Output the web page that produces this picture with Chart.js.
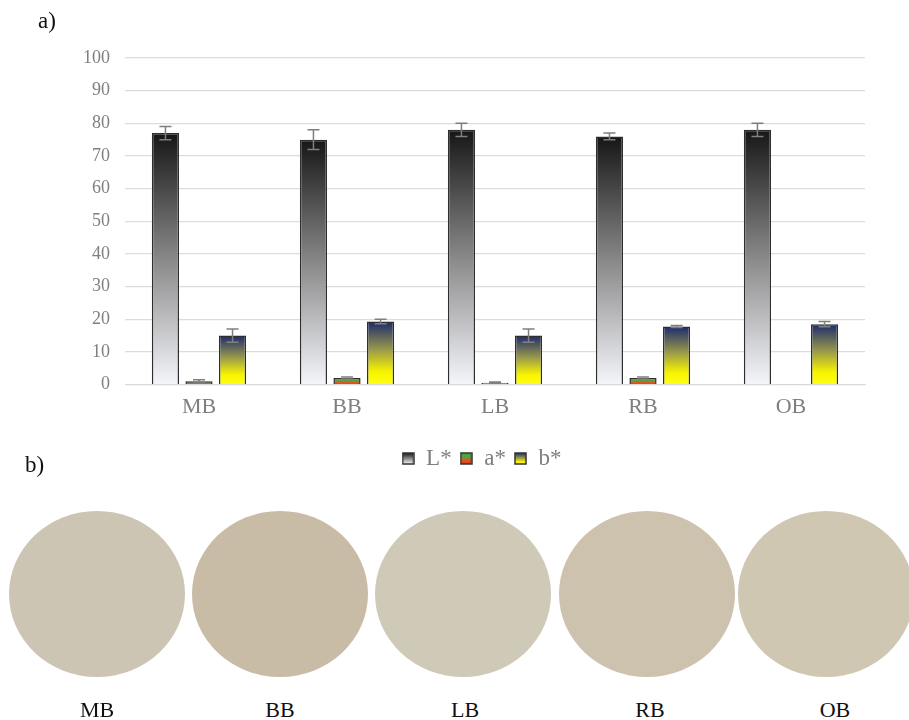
<!DOCTYPE html>
<html>
<head>
<meta charset="utf-8">
<script src="https://cdn.jsdelivr.net/npm/chart.js@4.4.1/dist/chart.umd.min.js"></script>
<style>
    body { margin: 0; background: #fff; font-family: "Liberation Serif", "DejaVu Serif", serif; }
    #page { position: relative; width: 909px; height: 720px; overflow: hidden; }
    #chartBox { position: absolute; left: 0; top: 0; width: 909px; height: 482px; }
    .tag { position: absolute; font-size: 23px; color: #111; }
    .swatch { position: absolute; border-radius: 50%; }
    .name { position: absolute; font-size: 22px; color: #111; transform: translateX(-50%); }
</style>
</head>
<body>
<div id="page">
    <div id="chartBox"><canvas id="barChart"></canvas></div>
    <div class="tag" style="left:38px; top:8px;">a)</div>
    <div class="tag" style="left:25px; top:452px;">b)</div>
    <div id="swatches"></div>
</div>
<script>
const categories = ['MB', 'BB', 'LB', 'RB', 'OB'];
const lValues = [77, 75, 78, 76, 78];
const lErrors = [2, 3, 2, 1, 2];
const aValues = [1, 2, 0.6, 2, 0.1];
const aErrors = [0.5, 0.3, 0.2, 0.3, 0];
const bValues = [15, 19.3, 15, 17.8, 18.5];
const bErrors = [2, 0.7, 2, 0.3, 0.8];
const yTickMax = 100;
const yTickStep = 10;

// sample colours shown under b)
const swatchNames = ['MB', 'BB', 'LB', 'RB', 'OB'];
const swatchColors = ['#cdc5b4', '#c9bca6', '#cfc9b7', '#cdc2ae', '#d0c7b2'];

const serif = "'Liberation Serif', 'Times New Roman', serif";

const lStops = [[0, '#161616'], [0.45, '#7d7d7d'], [1, '#f5f6fb']];
const aStops = [[0, '#3fa548'], [0.35, '#58a044'], [0.7, '#e0561f'], [1, '#ee3a1c']];
const bStops = [[0, '#1c2a6e'], [0.45, '#9a9a4a'], [0.8, '#f8f400'], [1, '#ffff14']];

// Vertical gradient spanning each bar from its top to the zero line
function barGradient(stops) {
    return (ctx) => {
        const chart = ctx.chart;
        if (!chart.chartArea || ctx.type !== 'data') return stops[stops.length - 1][1];
        const y = chart.scales.y;
        const top = y.getPixelForValue(ctx.raw);
        const base = y.getPixelForValue(0);
        if (Math.abs(base - top) < 1) return stops[0][1];
        const g = chart.ctx.createLinearGradient(0, top, 0, base);
        stops.forEach(s => g.addColorStop(s[0], s[1]));
        return g;
    };
}

// Small gradient box used as legend marker
function legendBox(stops) {
    const c = document.createElement('canvas');
    c.width = 13;
    c.height = 13;
    const x = c.getContext('2d');
    const g = x.createLinearGradient(0, 1, 0, 12);
    stops.forEach(s => g.addColorStop(s[0], s[1]));
    x.fillStyle = g;
    x.fillRect(1, 1, 11, 11);
    x.strokeStyle = '#333';
    x.lineWidth = 1.5;
    x.strokeRect(1, 1, 11, 11);
    return c;
}

const errorBars = {
    id: 'errorBars',
    afterDatasetsDraw(chart) {
        const ctx = chart.ctx;
        const y = chart.scales.y;
        ctx.save();
        ctx.strokeStyle = '#7f7f7f';
        ctx.lineWidth = 1.5;
        chart.data.datasets.forEach((ds, i) => {
            const meta = chart.getDatasetMeta(i);
            meta.data.forEach((bar, j) => {
                const e = ds.errors[j];
                if (!e) return;
                const v = ds.data[j];
                const y1 = y.getPixelForValue(v + e);
                const y2 = y.getPixelForValue(v - e);
                ctx.beginPath();
                ctx.moveTo(bar.x, y1);
                ctx.lineTo(bar.x, y2);
                ctx.moveTo(bar.x - 6, y1);
                ctx.lineTo(bar.x + 6, y1);
                ctx.moveTo(bar.x - 6, y2);
                ctx.lineTo(bar.x + 6, y2);
                ctx.stroke();
            });
        });
        ctx.restore();
    }
};

// legend sits a bit right of the canvas centre in the original
const legendShift = {
    id: 'legendShift',
    afterLayout(chart) {
        chart.legend.left += 15;
        chart.legend.right += 15;
    }
};

const series = [
    { label: 'L*', data: lValues, errors: lErrors, stops: lStops },
    { label: 'a*', data: aValues, errors: aErrors, stops: aStops },
    { label: 'b*', data: bValues, errors: bErrors, stops: bStops }
];

const barChart = new Chart(document.getElementById('barChart'), {
    type: 'bar',
    data: {
        labels: categories,
        datasets: series.map(s => ({
            label: s.label,
            data: s.data,
            errors: s.errors,
            backgroundColor: barGradient(s.stops),
            borderColor: '#2e2e2e',
            borderWidth: 1.5,
            categoryPercentage: 0.68,
            barPercentage: 0.81
        }))
    },
    options: {
        responsive: true,
        maintainAspectRatio: false,
        animation: false,
        layout: { padding: { left: 68, right: 44, top: 58, bottom: 2 } },
        plugins: {
            tooltip: { enabled: false },
            legend: {
                position: 'bottom',
                labels: {
                    usePointStyle: true,
                    boxWidth: 13,
                    boxHeight: 13,
                    font: { family: serif, size: 23 },
                    color: '#7f7f7f',
                    padding: 8,
                    generateLabels: (chart) => series.map((s, i) => ({
                        text: s.label,
                        pointStyle: legendBox(s.stops),
                        fontColor: '#7f7f7f',
                        datasetIndex: i,
                        hidden: false,
                        lineWidth: 0
                    }))
                }
            }
        },
        scales: {
            x: {
                grid: { display: false },
                border: { color: '#d9d9d9', width: 1 },
                ticks: {
                    color: '#7f7f7f',
                    font: { family: serif, size: 22 },
                    padding: 1
                },
                afterFit: (scale) => { scale.height += 18; }
            },
            y: {
                min: 0,
                max: yTickMax,
                grid: { color: '#dcdcdc', lineWidth: 1.2, drawTicks: false },
                border: { display: false },
                ticks: {
                    stepSize: yTickStep,
                    color: '#7f7f7f',
                    font: { family: serif, size: 18 },
                    padding: 15
                }
            }
        }
    },
    plugins: [errorBars, legendShift]
});

// b) colour swatches
const swatchBox = document.getElementById('swatches');
const centers = [97, 280, 463, 647, 826];
swatchNames.forEach((name, i) => {
    const d = document.createElement('div');
    d.className = 'swatch';
    d.style.left = (centers[i] - 88) + 'px';
    d.style.top = '511px';
    d.style.width = '176px';
    d.style.height = '166px';
    d.style.background = swatchColors[i];
    swatchBox.appendChild(d);
    const t = document.createElement('div');
    t.className = 'name';
    t.textContent = name;
    t.style.left = (centers[i] + [0, 0, 2, 3, 9][i]) + 'px';
    t.style.top = '697px';
    swatchBox.appendChild(t);
});
</script>
</body>
</html>
